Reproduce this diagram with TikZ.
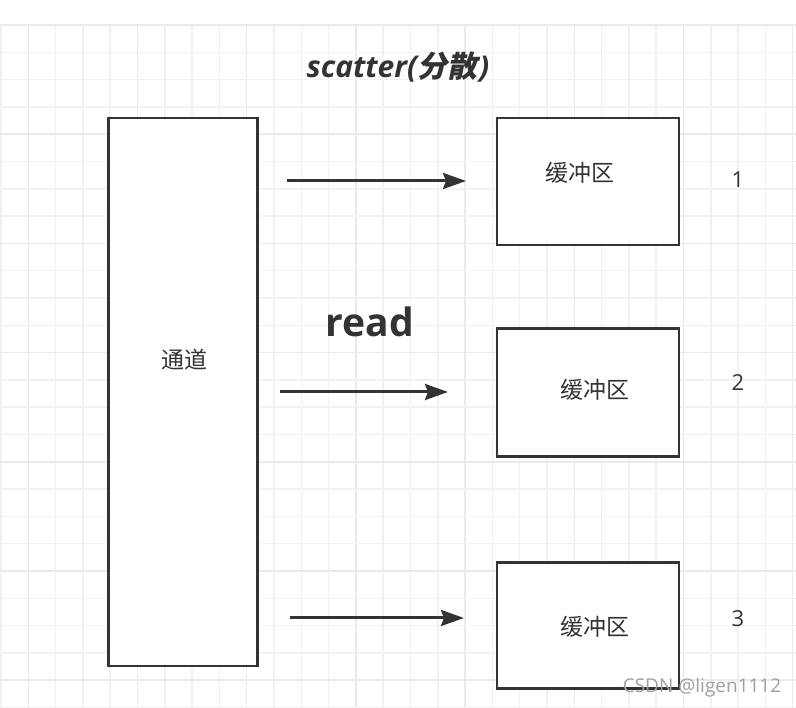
\documentclass[tikz,border=0pt]{standalone}
\usepackage{fontspec}
\setmainfont{Open Sans}
\newfontfamily\cjk{Noto Sans CJK SC}
\newfontfamily\cjkslant{Noto Sans CJK SC}[FakeSlant=0.2]
\usetikzlibrary{arrows.meta}
\definecolor{ink}{HTML}{333333}
\definecolor{gridminor}{HTML}{F1F1F1}
\definecolor{gridmajor}{HTML}{EAEAEA}
\definecolor{wm}{HTML}{A0A0A0}
\tikzset{
  boxshape/.style={draw=ink, line width=2.5pt, fill=white, rectangle, inner sep=0pt},
  cjklabel/.style={text=ink, font=\cjk\fontsize{23}{26}\selectfont, inner sep=0pt},
  numlabel/.style={text=ink, font=\fontsize{22}{25}\selectfont, inner sep=0pt},
  flow/.style={draw=ink, line width=3pt, -{Stealth[length=23pt,width=16pt,inset=3pt]}},
}
\begin{document}
\begin{tikzpicture}[x=1pt,y=-1pt]
\useasboundingbox (0,0) rectangle (796,708);
\fill[white] (0,0) rectangle (796,708);
% grid
\foreach \k in {0,...,29}{
  \pgfmathtruncatemacro{\m}{mod(\k,4)}
  \ifnum\m=1
    \draw[gridmajor, line width=1.5pt] ({1+27.3*\k},25) -- ({1+27.3*\k},708);
  \else
    \draw[gridminor, line width=1.5pt] ({1+27.3*\k},25) -- ({1+27.3*\k},708);
  \fi
}
\foreach \k in {0,...,25}{
  \pgfmathtruncatemacro{\m}{mod(\k,4)}
  \ifnum\m=0
    \draw[gridmajor, line width=1.5pt] (0,{25+27.3*\k}) -- (796,{25+27.3*\k});
  \else
    \draw[gridminor, line width=1.5pt] (0,{25+27.3*\k}) -- (796,{25+27.3*\k});
  \fi
}
% title
\node[text=ink, inner sep=0pt] (title) at (398,67)
  {\fontsize{30}{34}\selectfont\bfseries\itshape scatter(\cjkslant\bfseries 分散\hspace{2pt}\normalfont\bfseries\itshape )};
% channel
\node[boxshape, minimum width=149pt, minimum height=548pt] (chan) at (183,392) {};
\node[cjklabel] (chanlabel) at (184,360) {通道};
% buffers
\node[boxshape, minimum width=182pt, minimum height=127pt] (buf1) at (588,181.5) {};
\node[boxshape, minimum width=182pt, minimum height=128pt] (buf2) at (588,392.5) {};
\node[boxshape, minimum width=182pt, minimum height=126pt] (buf3) at (588,625.5) {};
\node[cjklabel] (buf1label) at (580,173) {缓冲区};
\node[cjklabel] (buf2label) at (595,390) {缓冲区};
\node[cjklabel] (buf3label) at (595,627) {缓冲区};
% numbers
\node[numlabel] (n1) at (738,180) {1};
\node[numlabel] (n2) at (738,383) {2};
\node[numlabel] (n3) at (738,619) {3};
% read label
\node[text=ink, inner sep=0pt, font=\fontsize{39}{43}\selectfont\bfseries] (read) at (370,322) {read};
% arrows
\coordinate (a1s) at (287,181);
\coordinate (a1e) at (466,181);
\coordinate (a2s) at (280,392);
\coordinate (a2e) at (448,392);
\coordinate (a3s) at (290,618);
\coordinate (a3e) at (464,618);
\draw[flow] (a1s) -- (a1e);
\draw[flow] (a2s) -- (a2e);
\draw[flow] (a3s) -- (a3e);
% watermark
\node[text=wm, inner sep=0pt, font=\fontsize{19}{22}\selectfont] (wmark) at (702,688) {CSDN @ligen1112};
\end{tikzpicture}
\end{document}
